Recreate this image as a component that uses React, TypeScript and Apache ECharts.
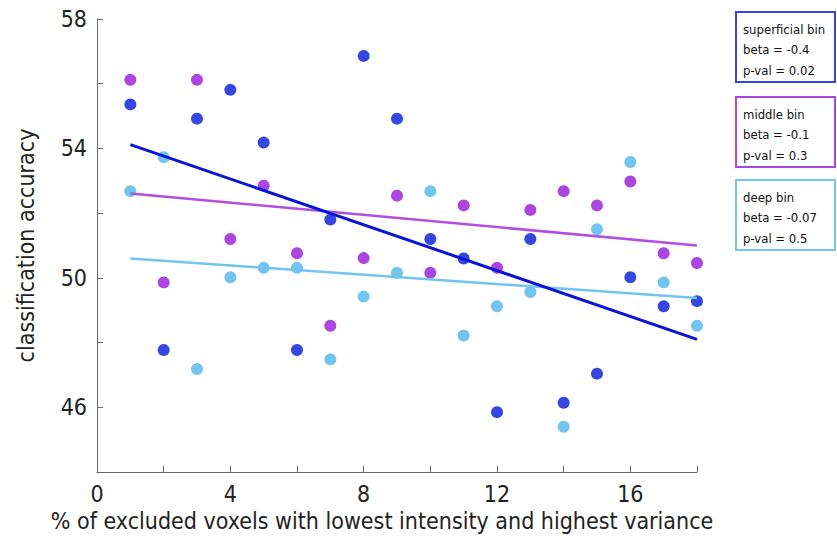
import React, { useEffect, useRef } from "react";
import * as echarts from "echarts";

const xValues = [1, 2, 3, 4, 5, 6, 7, 8, 9, 10, 11, 12, 13, 14, 15, 16, 17, 18];
const superficial = [55.36, 47.77, 54.92, 55.81, 54.18, 47.77, 51.8, 56.86, 54.92, 51.2, 50.6, 45.85, 51.2, 46.14, 47.04, 50.02, 49.12, 49.28];
const middle = [56.12, 49.86, 56.12, 51.2, 52.85, 50.76, 48.52, 50.61, 52.54, 50.16, 52.24, 50.31, 52.1, 52.68, 52.24, 52.98, 50.76, 50.46];
const deep = [52.68, 53.73, 47.18, 50.02, 50.31, 50.31, 47.48, 49.42, 50.16, 52.68, 48.22, 49.12, 49.56, 45.4, 51.5, 53.58, 49.86, 48.52];

// fitted line endpoints (x = 1 and x = 18)
const fitX = [1, 18];
const superficialFit = [54.12, 48.1];
const middleFit = [52.61, 51.0];
const deepFit = [50.6, 49.38];

const xTickLabels = [0, 4, 8, 12, 16];
const yTickLabels = [46, 50, 54, 58];

const legendTexts = [
  ["superficial bin", "beta = -0.4", "p-val = 0.02"],
  ["middle bin", "beta = -0.1", "p-val = 0.3"],
  ["deep bin", "beta = -0.07", "p-val = 0.5"],
];

const FONT = "'Liberation Sans Narrow', 'DejaVu Sans Condensed', 'Liberation Sans', sans-serif";

const DOT_SUP = "#3547e3";
const DOT_MID = "#ad45e0";
const DOT_DEEP = "#72c5ef";
const LINE_SUP = "#0a14d6";
const LINE_MID = "#b04fe0";
const LINE_DEEP = "#72c5ef";

export default function App() {
  const ref = useRef<HTMLDivElement>(null);
  useEffect(() => {
    if (!ref.current) return;
    const chart = echarts.init(ref.current, null, { renderer: "svg" });
    const pts = (ys: number[]) => xValues.map((x, i) => [x, ys[i]]);
    const fit = (ys: number[]) => fitX.map((x, i) => [x, ys[i]]);
    const boxColors = [DOT_SUP, DOT_MID, DOT_DEEP];
    const boxTops = [12, 97, 180];
    const graphic: any[] = [];
    legendTexts.forEach((lines, b) => {
      graphic.push({
        type: "rect",
        shape: { x: 736, y: boxTops[b], width: 99, height: 70 },
        style: { fill: "#fff", stroke: boxColors[b], lineWidth: 2 },
      });
      lines.forEach((t, j) => {
        graphic.push({
          type: "text",
          x: 743,
          y: boxTops[b] + 17 + j * 20.5,
          style: {
            text: t,
            fill: "#111",
            font: `13px ${FONT}`,
            verticalAlign: "middle",
            align: "left",
          },
        });
      });
    });
    const axisCommon = {
      axisLine: { show: true, lineStyle: { color: "#666", width: 1 } },
      axisTick: { show: true, inside: true, length: 6, lineStyle: { color: "#666" } },
      splitLine: { show: false },
    };
    chart.setOption({
      animation: false,
      backgroundColor: "#fff",
      grid: { left: 97, right: 140, top: 19, bottom: 70, containLabel: false },
      xAxis: {
        type: "value",
        min: 0,
        max: 18,
        interval: 2,
        ...axisCommon,
        axisLabel: {
          margin: 10,
          fontSize: 23,
          fontFamily: FONT,
          color: "#222",
          formatter: (v: number) => (xTickLabels.includes(v) ? String(v) : ""),
        },
        name: "% of excluded voxels with lowest intensity and highest variance",
        nameLocation: "middle",
        nameGap: 36,
        nameTextStyle: { fontSize: 23, fontFamily: FONT, color: "#222", padding: [0, 30, 0, 0] },
      },
      yAxis: {
        type: "value",
        min: 44,
        max: 58,
        interval: 2,
        ...axisCommon,
        axisLabel: {
          margin: 10,
          fontSize: 23,
          fontFamily: FONT,
          color: "#222",
          formatter: (v: number) => (yTickLabels.includes(v) ? String(v) : ""),
        },
        name: "classification accuracy",
        nameLocation: "middle",
        nameGap: 60,
        nameTextStyle: { fontSize: 23, fontFamily: FONT, color: "#222" },
      },
      series: [
        { type: "scatter", name: "superficial", data: pts(superficial), symbolSize: 12, itemStyle: { color: DOT_SUP, opacity: 1 }, z: 2 },
        { type: "scatter", name: "middle", data: pts(middle), symbolSize: 12, itemStyle: { color: DOT_MID, opacity: 1 }, z: 2 },
        { type: "scatter", name: "deep", data: pts(deep), symbolSize: 12, itemStyle: { color: DOT_DEEP, opacity: 1 }, z: 2 },
        { type: "line", data: fit(deepFit), showSymbol: false, lineStyle: { color: LINE_DEEP, width: 2.5 }, z: 3 },
        { type: "line", data: fit(middleFit), showSymbol: false, lineStyle: { color: LINE_MID, width: 2.5 }, z: 3 },
        { type: "line", data: fit(superficialFit), showSymbol: false, lineStyle: { color: LINE_SUP, width: 3 }, z: 3 },
      ],
      graphic,
    });
    return () => chart.dispose();
  }, []);
  return <div ref={ref} style={{ width: 837, height: 542, position: "absolute", left: 0, top: 0 }} />;
}
